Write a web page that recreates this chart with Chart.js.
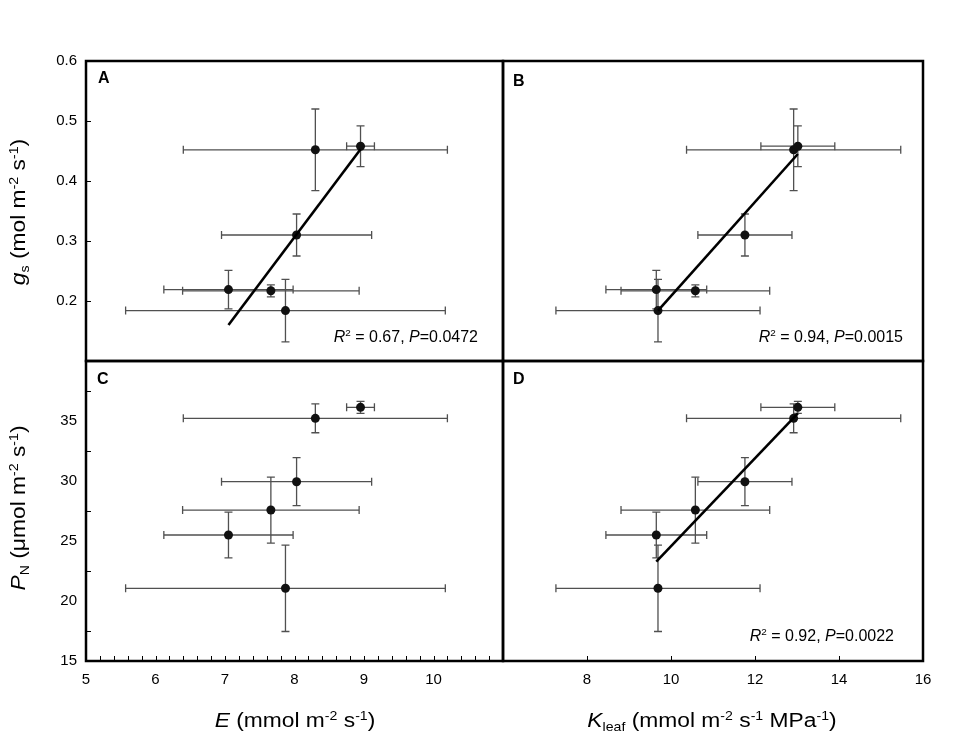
<!DOCTYPE html>
<html>
<head>
<meta charset="utf-8">
<script src="https://cdn.jsdelivr.net/npm/chart.js@4.4.0/dist/chart.umd.min.js"></script>
<style>
html, body { margin: 0; padding: 0; background: #fff; }
#wrap { position: relative; width: 957px; height: 744px; font-family: "Liberation Sans", Arial, sans-serif; color: #000; }
#wrap canvas { position: absolute; left: 0; top: 0; }
.t { position: absolute; white-space: nowrap; line-height: 1; }
.t sup { font-size: 0.62em; vertical-align: 0.6em; line-height: 0; }
.t sub { font-size: 0.62em; vertical-align: -0.3em; line-height: 0; }
.ytitle { font-size: 20px; transform: translate(-50%, -50%) rotate(-90deg) scaleX(1.14); }
.xtitle { font-size: 20px; transform: translate(-50%, -50%) scaleX(1.14); }
.stat { font-size: 16px; transform: translateX(-100%); }
.lab { font-size: 16px; font-weight: bold; }
</style>
</head>
<body>
<div id="wrap">
  <canvas id="cA" width="957" height="744"></canvas>
  <canvas id="cB" width="957" height="744"></canvas>
  <canvas id="cC" width="957" height="744"></canvas>
  <canvas id="cD" width="957" height="744"></canvas>

  <div class="t lab" style="left:98px;top:70px">A</div>
  <div class="t lab" style="left:513px;top:73px">B</div>
  <div class="t lab" style="left:97px;top:371px">C</div>
  <div class="t lab" style="left:513px;top:371px">D</div>

  <div class="t stat" style="left:478px;top:329px"><i>R</i><sup>2</sup> = 0.67, <i>P</i>=0.0472</div>
  <div class="t stat" style="left:903px;top:329px"><i>R</i><sup>2</sup> = 0.94, <i>P</i>=0.0015</div>
  <div class="t stat" style="left:894px;top:628px"><i>R</i><sup>2</sup> = 0.92, <i>P</i>=0.0022</div>

  <div class="t ytitle" style="left:18px;top:212px"><i>g</i><sub>s</sub> (mol m<sup>-2</sup> s<sup>-1</sup>)</div>
  <div class="t ytitle" style="left:18px;top:508px"><i>P</i><sub>N</sub> (μmol m<sup>-2</sup> s<sup>-1</sup>)</div>
  <div class="t xtitle" style="left:295px;top:720px"><i>E</i> (mmol m<sup>-2</sup> s<sup>-1</sup>)</div>
  <div class="t xtitle" style="left:712px;top:720px"><i>K</i><sub>leaf</sub> (mmol m<sup>-2</sup> s<sup>-1</sup> MPa<sup>-1</sup>)</div>
</div>

<script>
// means and error bars, same six treatments in every panel
const E         = [8.30, 8.95, 8.03, 7.05, 7.66, 7.87];
const E_err     = [1.90, 0.20, 1.08, 0.93, 1.27, 2.30];
const Kleaf     = [12.92, 13.02, 11.76, 9.65, 10.58, 9.69];
const Kleaf_err = [2.55, 0.88, 1.12, 1.20, 1.77, 2.43];
const gs        = [0.452, 0.458, 0.310, 0.219, 0.217, 0.184];
const gs_err    = [0.068, 0.034, 0.035, 0.032, 0.010, 0.052];
const PN        = [35.22, 36.14, 29.94, 25.50, 27.58, 21.06];
const PN_err    = [1.20, 0.50, 2.00, 1.90, 2.75, 3.60];

// regression lines, start and end
const fitA_x = [7.05, 8.95],  fitA_y = [0.160, 0.453];
const fitB_x = [9.69, 13.02], fitB_y = [0.184, 0.445];
const fitD_x = [9.65, 13.02], fitD_y = [23.28, 35.64];

// tick labels
const gsTicks = [0.2, 0.3, 0.4, 0.5, 0.6];
const pnTicks = [15, 20, 25, 30, 35];
const eTicks  = [5, 6, 7, 8, 9, 10];
const kTicks  = [8, 10, 12, 14, 16];

// panel frames in page pixels
const L = 86, M = 503, R = 923, T = 61, H = 361, B = 661;

const tickFont = { family: 'Liberation Sans', size: 15 };

function pts(xs, ys) { return xs.map((v, i) => ({ x: v, y: ys[i] })); }
function has(list, v) { return list.some(t => Math.abs(t - v) < 1e-6); }

function axis(min, max, step, labels, fmt, isX) {
  const size = isX ? 40 : 60;
  return {
    type: 'linear', min: min, max: max, display: !!labels,
    grid: { display: false, drawTicks: false },
    border: { display: false },
    ticks: {
      stepSize: step, autoSkip: false, maxRotation: 0, padding: isX ? 10 : 9,
      color: '#000', font: tickFont,
      callback: v => (labels && has(labels, v)) ? fmt(v) : ''
    },
    afterFit: s => {
      if (!labels) return;
      if (isX) s.height = size; else s.width = size;
    }
  };
}

function panel(id, p) {
  const yW = p.yLabels ? 60 : 0;
  const xH = p.xLabels ? 40 : 0;
  const deco = {
    id: 'deco' + id,
    beforeDatasetsDraw(chart) {
      const { ctx, scales: { x, y } } = chart;
      ctx.save();
      ctx.strokeStyle = '#505050';
      ctx.lineWidth = 1.3;
      p.xs.forEach((xv, i) => {
        const yv = p.ys[i];
        const px = x.getPixelForValue(xv), py = y.getPixelForValue(yv);
        const x0 = x.getPixelForValue(xv - p.xe[i]), x1 = x.getPixelForValue(xv + p.xe[i]);
        const y0 = y.getPixelForValue(yv - p.ye[i]), y1 = y.getPixelForValue(yv + p.ye[i]);
        ctx.beginPath();
        ctx.moveTo(x0, py); ctx.lineTo(x1, py);
        ctx.moveTo(x0, py - 4); ctx.lineTo(x0, py + 4);
        ctx.moveTo(x1, py - 4); ctx.lineTo(x1, py + 4);
        ctx.moveTo(px, y0); ctx.lineTo(px, y1);
        ctx.moveTo(px - 4, y0); ctx.lineTo(px + 4, y0);
        ctx.moveTo(px - 4, y1); ctx.lineTo(px + 4, y1);
        ctx.stroke();
      });
      ctx.restore();
    },
    afterDraw(chart) {
      const { ctx, chartArea: a, scales: { x, y } } = chart;
      ctx.save();
      ctx.strokeStyle = '#000';
      ctx.lineWidth = 1;
      ctx.beginPath();
      (p.yMarks || []).forEach(v => {
        const py = Math.round(y.getPixelForValue(v)) + 0.5;
        ctx.moveTo(a.left, py); ctx.lineTo(a.left + 5, py);
      });
      (p.xMarks || []).forEach(v => {
        const px = Math.round(x.getPixelForValue(v)) + 0.5;
        ctx.moveTo(px, a.bottom); ctx.lineTo(px, a.bottom - 5);
      });
      ctx.stroke();
      ctx.lineWidth = 2.5;
      ctx.strokeRect(a.left, a.top, a.right - a.left, a.bottom - a.top);
      ctx.restore();
    }
  };

  const sets = [];
  if (p.fx) sets.push({ data: pts(p.fx, p.fy), showLine: true, borderColor: '#000', borderWidth: 2.6, pointRadius: 0 });
  sets.push({ data: pts(p.xs, p.ys), backgroundColor: '#111', borderColor: '#111', borderWidth: 0, pointRadius: 4.5 });

  new Chart(document.getElementById(id), {
    type: 'scatter',
    data: { datasets: sets },
    options: {
      responsive: false, animation: false, events: [],
      layout: { padding: { left: p.box[0] - yW, top: p.box[1], right: 957 - p.box[2], bottom: 744 - p.box[3] - xH } },
      plugins: { legend: { display: false }, tooltip: { enabled: false } },
      scales: {
        x: axis(p.xMin, p.xMax, p.xStep, p.xLabels, String, true),
        y: axis(p.yMin, p.yMax, p.yStep, p.yLabels, p.yFmt || String, false)
      }
    },
    plugins: [deco]
  });
}

const eMinor = [];
for (let k = 26; k <= 54; k++) eMinor.push(k / 5);

panel('cA', {
  box: [L, T, M, H], xs: E, xe: E_err, ys: gs, ye: gs_err, fx: fitA_x, fy: fitA_y,
  xMin: 5, xMax: 11, xStep: 1, yMin: 0.1, yMax: 0.6, yStep: 0.1,
  yLabels: gsTicks, yFmt: v => v.toFixed(1), yMarks: [0.2, 0.3, 0.4, 0.5]
});
panel('cB', {
  box: [M, T, R, H], xs: Kleaf, xe: Kleaf_err, ys: gs, ye: gs_err, fx: fitB_x, fy: fitB_y,
  xMin: 6, xMax: 16, xStep: 2, yMin: 0.1, yMax: 0.6, yStep: 0.1
});
panel('cC', {
  box: [L, H, M, B], xs: E, xe: E_err, ys: PN, ye: PN_err,
  xMin: 5, xMax: 11, xStep: 1, yMin: 15, yMax: 40, yStep: 2.5,
  xLabels: eTicks, yLabels: pnTicks, xMarks: eMinor, yMarks: [17.5, 22.5, 27.5, 32.5, 37.5]
});
panel('cD', {
  box: [M, H, R, B], xs: Kleaf, xe: Kleaf_err, ys: PN, ye: PN_err, fx: fitD_x, fy: fitD_y,
  xMin: 6, xMax: 16, xStep: 2, yMin: 15, yMax: 40, yStep: 2.5,
  xLabels: kTicks, xMarks: [8, 10, 12, 14]
});
</script>
</body>
</html>
